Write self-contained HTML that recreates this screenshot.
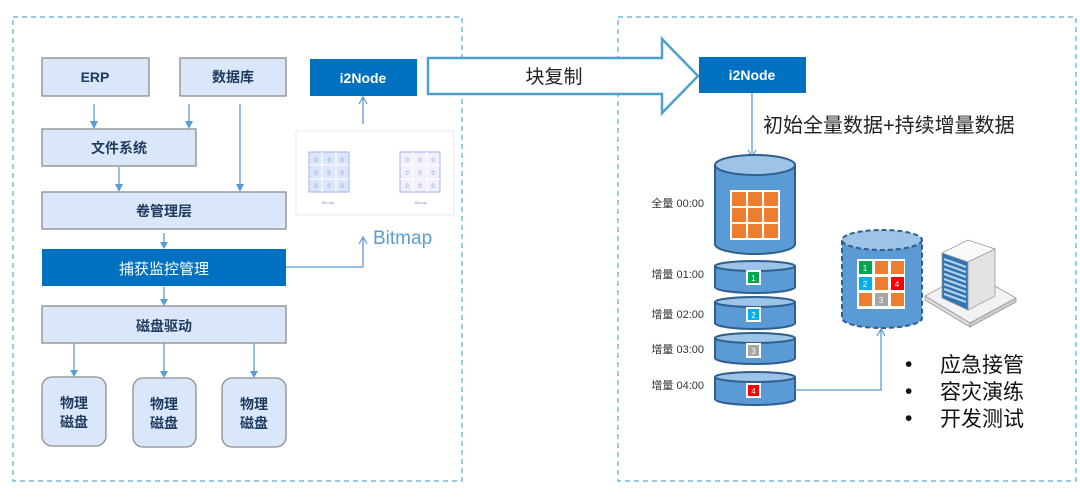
<!DOCTYPE html>
<html><head><meta charset="utf-8"><style>
html,body{margin:0;padding:0;background:#fff;}
svg{display:block;}
text{font-family:"Liberation Sans","Noto Sans CJK SC",sans-serif;}
.bx{fill:#dae6fa;stroke:#8c8c8c;stroke-width:1.3;}
.bt{font-size:14px;font-weight:bold;fill:#1f3a5f;text-anchor:middle;}
.ln{stroke:#5b9bd5;stroke-width:1.3;fill:none;}
.ah{fill:#5b9bd5;}
.cyl{fill:#5b9bd5;stroke:#2f5f8f;stroke-width:2;}
.cyt{fill:#9dc3e6;stroke:#2f5f8f;stroke-width:2;}
.lb{font-size:11px;fill:#333;text-anchor:end;}
.or{fill:#ed7d31;}
</style></head><body>
<svg width="1080" height="497" viewBox="0 0 1080 497" xmlns="http://www.w3.org/2000/svg">
<!-- dashed containers -->
<rect x="13" y="17" width="449" height="464" fill="none" stroke="#5aa9d6" stroke-width="1.2" stroke-dasharray="5,4"/>
<rect x="618" y="17" width="458" height="464" fill="none" stroke="#5aa9d6" stroke-width="1.2" stroke-dasharray="5,4"/>

<!-- left boxes -->
<rect class="bx" x="42" y="58" width="107" height="38"/><text class="bt" x="95" y="82">ERP</text>
<rect class="bx" x="180" y="58" width="106" height="38"/><text class="bt" x="233" y="82">数据库</text>
<rect class="bx" x="42" y="129" width="154" height="37"/><text class="bt" x="119" y="153">文件系统</text>
<rect class="bx" x="42" y="192" width="244" height="37"/><text class="bt" x="164" y="216">卷管理层</text>
<rect x="42" y="249" width="244" height="37" fill="#0070c0"/><text x="164" y="274" font-size="15" fill="#fff" text-anchor="middle">捕获监控管理</text>
<rect class="bx" x="42" y="306" width="244" height="37"/><text class="bt" x="164" y="331">磁盘驱动</text>
<rect class="bx" x="42" y="377" width="64" height="69" rx="10"/><text class="bt" x="74" y="408">物理</text><text class="bt" x="74" y="427">磁盘</text>
<rect class="bx" x="133" y="378" width="63" height="69" rx="10"/><text class="bt" x="164" y="409">物理</text><text class="bt" x="164" y="428">磁盘</text>
<rect class="bx" x="222" y="378" width="64" height="69" rx="10"/><text class="bt" x="254" y="409">物理</text><text class="bt" x="254" y="428">磁盘</text>

<!-- left arrows -->
<g class="ln">
<line x1="94" y1="104" x2="94" y2="122"/>
<line x1="189" y1="104" x2="189" y2="122"/>
<line x1="240" y1="104" x2="240" y2="185"/>
<line x1="119" y1="167" x2="119" y2="185"/>
<line x1="164" y1="233" x2="164" y2="243"/>
<line x1="164" y1="287" x2="164" y2="300"/>
<line x1="74" y1="343" x2="74" y2="371"/>
<line x1="164" y1="343" x2="164" y2="372"/>
<line x1="254" y1="343" x2="254" y2="372"/>
</g>
<g class="ah">
<path d="M90,121 L98,121 L94,129 Z"/>
<path d="M185,121 L193,121 L189,129 Z"/>
<path d="M236,184 L244,184 L240,192 Z"/>
<path d="M115,184 L123,184 L119,192 Z"/>
<path d="M160,242 L168,242 L164,249 Z"/>
<path d="M160,299 L168,299 L164,306 Z"/>
<path d="M70,370 L78,370 L74,377 Z"/>
<path d="M160,371 L168,371 L164,378 Z"/>
<path d="M250,371 L258,371 L254,378 Z"/>
</g>

<!-- i2Node left -->
<rect x="310" y="59" width="107" height="37" fill="#0070c0"/>
<text x="363" y="83" font-size="14" font-weight="bold" fill="#fff" text-anchor="middle">i2Node</text>
<line class="ln" x1="363" y1="124" x2="363" y2="98"/>
<path d="M359,104 L363,97 L367,104" fill="none" stroke="#5b9bd5" stroke-width="1.2"/>

<!-- bitmap panel -->
<rect x="296" y="131" width="158" height="84" fill="#fff" stroke="#e6ebf2" stroke-width="1"/>
<g>
<rect x="309" y="152" width="40" height="40" fill="#dce6fb" stroke="#9db5f0" stroke-width="1"/>
<path d="M322,152 V192 M336,152 V192 M309,165 H349 M309,179 H349" stroke="#fff" stroke-width="1"/>
<rect x="400" y="152" width="40" height="40" fill="#f1f0fb" stroke="#9db5f0" stroke-width="1"/>
<path d="M413,152 V192 M427,152 V192 M400,165 H440 M400,179 H440" stroke="#fff" stroke-width="1"/>
<g font-size="6" fill="#8a9ad6" text-anchor="middle">
<text x="316" y="162">0</text><text x="329" y="162">0</text><text x="342" y="162">0</text>
<text x="316" y="175">0</text><text x="329" y="175">0</text><text x="342" y="175">0</text>
<text x="316" y="188">0</text><text x="329" y="188">0</text><text x="342" y="188">0</text>
<text x="407" y="162">0</text><text x="420" y="162">0</text><text x="433" y="162">0</text>
<text x="407" y="175">0</text><text x="420" y="175">0</text><text x="433" y="175">0</text>
<text x="407" y="188">0</text><text x="420" y="188">0</text><text x="433" y="188">0</text>
<text x="328" y="204" font-size="4">Bitmap</text><text x="421" y="204" font-size="4">Bitmap</text>
</g>
</g>
<path d="M286,267 H363 V238" class="ln"/>
<path d="M359,244 L363,237 L367,244" fill="none" stroke="#5b9bd5" stroke-width="1.2"/>
<text x="373" y="244" font-size="19" fill="#5b9bd5">Bitmap</text>

<!-- big arrow -->
<path d="M428,58 H662 V39 L698,76 L662,113 V94 H428 Z" fill="#fff" stroke="#4f9fd0" stroke-width="2.5" stroke-linejoin="miter"/>
<text x="554" y="83" font-size="19" fill="#222" text-anchor="middle">块复制</text>

<!-- i2Node right -->
<rect x="699" y="57" width="107" height="36" fill="#0070c0"/>
<text x="752" y="80" font-size="14" font-weight="bold" fill="#fff" text-anchor="middle">i2Node</text>
<line class="ln" x1="752" y1="93" x2="752" y2="156"/>
<path d="M748,150 L752,157 L756,150" fill="none" stroke="#5b9bd5" stroke-width="1.2"/>
<text x="763" y="132" font-size="20" fill="#222">初始全量数据+持续增量数据</text>

<!-- big cylinder -->
<path class="cyl" d="M715,165 V244 A40,10 0 0 0 795,244 V165"/>
<ellipse class="cyt" cx="755" cy="165" rx="40" ry="10"/>
<rect x="730" y="190" width="50" height="50" fill="#fff"/>
<g class="or">
<rect x="732" y="192" width="14" height="14"/><rect x="748" y="192" width="14" height="14"/><rect x="764" y="192" width="14" height="14"/>
<rect x="732" y="208" width="14" height="14"/><rect x="748" y="208" width="14" height="14"/><rect x="764" y="208" width="14" height="14"/>
<rect x="732" y="224" width="14" height="14"/><rect x="748" y="224" width="14" height="14"/><rect x="764" y="224" width="14" height="14"/>
</g>
<text class="lb" x="704" y="207">全量 00:00</text>

<!-- small cylinders -->
<g>
<path class="cyl" d="M715,266 V287 A40,6 0 0 0 795,287 V266"/><ellipse class="cyt" cx="755" cy="266" rx="40" ry="5"/>
<rect x="746" y="270" width="15" height="15" fill="#fff"/><rect x="748" y="272" width="11" height="11" fill="#00a651"/>
<text x="753.5" y="281" font-size="8" fill="#fff" text-anchor="middle">1</text>
<text class="lb" x="704" y="278">增量 01:00</text>

<path class="cyl" d="M715,302 V323 A40,6 0 0 0 795,323 V302"/><ellipse class="cyt" cx="755" cy="302" rx="40" ry="5"/>
<rect x="746" y="307" width="15" height="15" fill="#fff"/><rect x="748" y="309" width="11" height="11" fill="#00b0f0"/>
<text x="753.5" y="318" font-size="8" fill="#fff" text-anchor="middle">2</text>
<text class="lb" x="704" y="318">增量 02:00</text>

<path class="cyl" d="M715,338 V358 A40,6 0 0 0 795,358 V338"/><ellipse class="cyt" cx="755" cy="338" rx="40" ry="5"/>
<rect x="746" y="343" width="15" height="15" fill="#fff"/><rect x="748" y="345" width="11" height="11" fill="#a5a5a5"/>
<text x="753.5" y="354" font-size="8" fill="#fff" text-anchor="middle">3</text>
<text class="lb" x="704" y="353">增量 03:00</text>

<path class="cyl" d="M715,377 V399 A40,6 0 0 0 795,399 V377"/><ellipse class="cyt" cx="755" cy="377" rx="40" ry="5"/>
<rect x="746" y="383" width="15" height="15" fill="#fff"/><rect x="748" y="385" width="11" height="11" fill="#ff0000"/>
<text x="753.5" y="394" font-size="8" fill="#fff" text-anchor="middle">4</text>
<text class="lb" x="704" y="389">增量 04:00</text>
</g>

<!-- connector to dashed cyl -->
<path d="M795,390 H881 V330" class="ln"/>
<path d="M877,336 L881,329 L885,336" fill="none" stroke="#5b9bd5" stroke-width="1.2"/>

<!-- dashed cylinder -->
<path d="M842,240 V318 A40,10 0 0 0 922,318 V240" fill="#5b9bd5" stroke="#2f5f8f" stroke-width="2" stroke-dasharray="5,3"/>
<ellipse cx="882" cy="240" rx="40" ry="10" fill="#9dc3e6" stroke="#2f5f8f" stroke-width="2" stroke-dasharray="5,3"/>
<rect x="857" y="259" width="48" height="50" fill="#fff"/>
<rect x="859" y="261" width="13" height="13" fill="#00a651"/><rect x="875" y="261" width="13" height="13" class="or"/><rect x="891" y="261" width="13" height="13" class="or"/>
<rect x="859" y="277" width="13" height="13" fill="#00b0f0"/><rect x="875" y="277" width="13" height="13" class="or"/><rect x="891" y="277" width="13" height="13" fill="#ff0000"/>
<rect x="859" y="293" width="13" height="13" class="or"/><rect x="875" y="293" width="13" height="13" fill="#a5a5a5"/><rect x="891" y="293" width="13" height="13" class="or"/>
<path d="M873,259 V309 M889,259 V309 M857,275 H905 M857,291 H905" stroke="#fff" stroke-width="1.5" stroke-dasharray="3,2"/>
<g font-size="8" fill="#fff" text-anchor="middle"><text x="865" y="271">1</text><text x="865" y="287">2</text><text x="881" y="303">3</text><text x="897" y="287">4</text></g>

<!-- server -->
<path d="M925,296 L970,272 L1016,298 L970,323 Z" fill="#f2f2f2" stroke="#999" stroke-width="0.8"/>
<path d="M925,296 V300 L970,327 V323 Z" fill="#ddd" stroke="#999" stroke-width="0.8"/>
<path d="M970,323 V327 L1016,302 V298 Z" fill="#ccc" stroke="#999" stroke-width="0.8"/>
<path d="M942,253 L968,240 L995,249 L968,262 Z" fill="#fafafa" stroke="#999" stroke-width="0.8"/>
<path d="M968,262 L995,249 V296 L968,310 Z" fill="#e3e3e3" stroke="#999" stroke-width="0.8"/>
<path d="M942,253 L968,262 V310 L942,298 Z" fill="#2e75b6" stroke="#999" stroke-width="0.8"/>
<g stroke="#bcd3ec" stroke-width="2">
<path d="M944,259 L966,267 M944,264 L966,272 M944,269 L966,277 M944,274 L966,282 M944,279 L966,287 M944,284 L966,292 M944,289 L966,297 M944,294 L966,302"/>
</g>

<!-- bullets -->
<g font-size="21" fill="#111">
<text x="905" y="371">•</text><text x="940" y="372">应急接管</text>
<text x="905" y="398">•</text><text x="940" y="399">容灾演练</text>
<text x="905" y="425">•</text><text x="940" y="426">开发测试</text>
</g>
</svg>
</body></html>
